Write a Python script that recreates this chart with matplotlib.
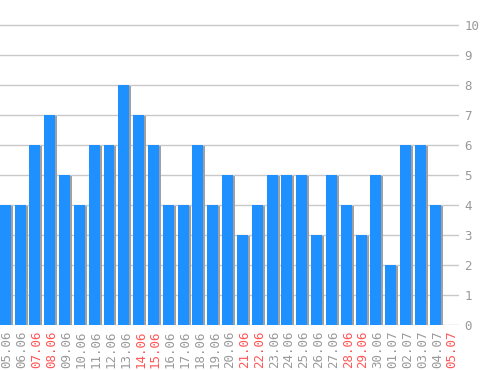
import matplotlib
matplotlib.use("Agg")
import matplotlib.pyplot as plt
import matplotlib.transforms as mtransforms
import numpy as np

dates = ["05.06", "06.06", "07.06", "08.06", "09.06", "10.06", "11.06", "12.06",
         "13.06", "14.06", "15.06", "16.06", "17.06", "18.06", "19.06", "20.06",
         "21.06", "22.06", "23.06", "24.06", "25.06", "26.06", "27.06", "28.06",
         "29.06", "30.06", "01.07", "02.07", "03.07", "04.07", "05.07"]
values = [4, 4, 6, 7, 5, 4, 6, 6, 8, 7, 6, 4, 4, 6, 4, 5, 3, 4, 5, 5, 5, 3, 5, 4,
          3, 5, 2, 6, 6, 4, 0]
weekend = ["07.06", "08.06", "14.06", "15.06", "21.06", "22.06", "28.06", "29.06", "05.07"]

W, H = 498, 370
fig = plt.figure(figsize=(W / 100, H / 100), dpi=100)
ax = fig.add_axes([0, (H - 325) / H, 459 / W, 325 / H])

x = np.arange(len(dates))
vals = np.array(values, dtype=float)
bw = 0.74
# shadow: 2px right, 1px down
ax.bar(x + 2 / 14.83, np.where(vals > 0, vals - 1 / 30, 0), width=bw,
       color="#a0a0a0", zorder=2)
ax.bar(x, vals, width=bw, color="#1e90ff", zorder=3)

ax.set_xlim(-0.35, 30.6)
ax.set_ylim(0, 325 / 30)

ax.set_yticks(range(0, 11))
ax.yaxis.tick_right()
ax.grid(axis="y", color="#c8c8c8", linewidth=1, zorder=0)
ax.set_axisbelow(True)
for s in ax.spines.values():
    s.set_visible(False)

mono = "DejaVu Sans Mono"
ax.tick_params(axis="y", length=0, pad=4, labelsize=9, labelcolor="#999999")
for t in ax.get_yticklabels():
    t.set_family(mono)

ax.set_xticks(x)
ax.set_xticklabels(dates, rotation=90, fontsize=9, family=mono)
ax.tick_params(axis="x", length=0, pad=4)
shift = mtransforms.ScaledTranslation(2 / 100, 0, fig.dpi_scale_trans)
for t, d in zip(ax.get_xticklabels(), dates):
    t.set_color("#ff5555" if d in weekend else "#999999")
    t.set_transform(t.get_transform() + shift)

fig.savefig("out.png", dpi=100)
